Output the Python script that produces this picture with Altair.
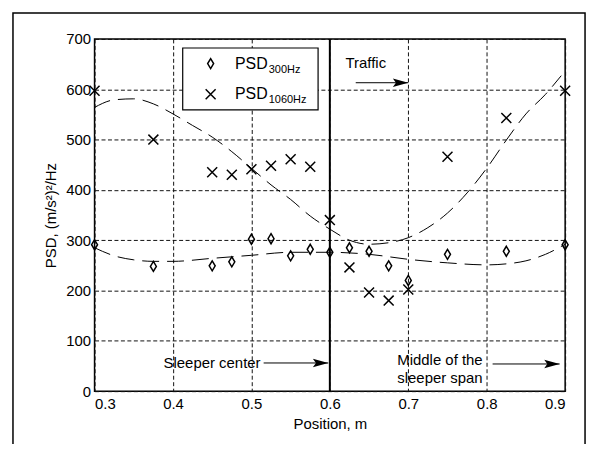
import altair as alt
import pandas as pd

# ---- data ----
positions = [0.3, 0.375, 0.45, 0.475, 0.5, 0.525, 0.55, 0.575, 0.6, 0.625, 0.65, 0.675, 0.7, 0.75, 0.825, 0.9]
psd300 = [291, 248, 249, 257, 302, 303, 269, 282, 276, 285, 278, 249, 220, 272, 278, 291]
psd1060 = [597, 500, 435, 430, 441, 448, 461, 446, 340, 246, 196, 180, 202, 466, 543, 597]

fit1060_x = [0.3, 0.325, 0.35, 0.375, 0.4, 0.425, 0.45, 0.475, 0.5, 0.525, 0.55, 0.575, 0.6,
             0.625, 0.65, 0.675, 0.7, 0.725, 0.75, 0.775, 0.8, 0.825, 0.85, 0.875, 0.895]
fit1060_y = [564, 579, 581, 571, 551, 528, 505, 476, 443, 410, 381, 348, 322,
             300, 292, 295, 305, 325, 354, 394, 443, 499, 551, 590, 627]
fit300_x = [0.3, 0.325, 0.35, 0.375, 0.4, 0.45, 0.5, 0.55, 0.6, 0.65, 0.7, 0.75, 0.8, 0.825, 0.85, 0.875, 0.9]
fit300_y = [285, 269, 261, 258, 258, 264, 270, 276, 276, 272, 262, 255, 251, 253, 259, 272, 292]

x_ticks = [0.3, 0.4, 0.5, 0.6, 0.7, 0.8, 0.9]
y_ticks = [0, 100, 200, 300, 400, 500, 600, 700]

FONT = "Liberation Sans"

pts = pd.DataFrame({"pos": positions, "p300": psd300, "p1060": psd1060})
fits = pd.concat([
    pd.DataFrame({"pos": fit1060_x, "val": fit1060_y, "s": "1060"}),
    pd.DataFrame({"pos": fit300_x, "val": fit300_y, "s": "300"}),
])

xs = alt.Scale(domain=[0.3, 0.9], nice=False, zero=False)
ys = alt.Scale(domain=[0, 700], nice=False)

X_AX = alt.Axis(values=x_ticks, format=".1f", grid=True, ticks=False, domain=False,
                labelPadding=5, title="Position, m", titlePadding=6)
Y_AX = alt.Axis(values=y_ticks, grid=True, ticks=False, domain=False, labelPadding=4,
                title="PSD, (m/s²)²/Hz", titlePadding=7)

base = alt.Chart(pts)

# axes + grid carrier (invisible)
grid = base.mark_point(opacity=0).encode(
    x=alt.X("pos:Q", scale=xs, axis=X_AX),
    y=alt.Y("p300:Q", scale=ys, axis=Y_AX),
)

fit_lines = alt.Chart(fits).mark_line(color="black", strokeWidth=1, strokeDash=[17, 8],
                                      interpolate="monotone").encode(
    x=alt.X("pos:Q", scale=xs), y=alt.Y("val:Q", scale=ys), detail="s:N")

DIAMOND = "M0,-1L0.6,0L0,1L-0.6,0Z"
XMARK = "M-1,-1L1,1M1,-1L-1,1"

d300 = base.mark_point(shape=DIAMOND, size=100, filled=False, color="black",
                       strokeWidth=1.5, opacity=1).encode(
    x=alt.X("pos:Q", scale=xs), y=alt.Y("p300:Q", scale=ys))
d1060 = base.mark_point(shape=XMARK, size=100, filled=False, color="black",
                        strokeWidth=1.5, opacity=1).encode(
    x=alt.X("pos:Q", scale=xs), y=alt.Y("p1060:Q", scale=ys))

# vertical solid line at sleeper center
vline = alt.Chart(pd.DataFrame({"x": [0.6]})).mark_rule(color="black", strokeWidth=2).encode(
    x=alt.X("x:Q", scale=xs))

# annotations
arrows = pd.DataFrame({"x1": [0.633, 0.5156, 0.8075], "x2": [0.700, 0.598, 0.893],
                       "y": [613, 56, 54]})
arrow_lines = alt.Chart(arrows).mark_rule(color="black", strokeWidth=1).encode(
    x=alt.X("x1:Q", scale=xs), x2="x2:Q", y=alt.Y("y:Q", scale=ys))
HEAD = "M-2,-0.55L0,0L-2,0.55L-1.6,0Z"
arrow_heads = alt.Chart(arrows).mark_point(shape=HEAD, size=240, filled=True, color="black",
                                           opacity=1).encode(
    x=alt.X("x2:Q", scale=xs), y=alt.Y("y:Q", scale=ys))

notes = pd.DataFrame({"x": [0.62, 0.388, 0.686, 0.686],
                      "y": [652, 56, 62, 26],
                      "t": ["Traffic", "Sleeper center", "Middle of the", "sleeper span"]})
note_text = alt.Chart(notes).mark_text(align="left", baseline="middle", font=FONT,
                                       fontSize=15, color="black").encode(
    x=alt.X("x:Q", scale=xs), y=alt.Y("y:Q", scale=ys), text="t:N")

# custom legend box
box = alt.Chart(pd.DataFrame({"x1": [0.4124], "x2": [0.585], "y1": [559], "y2": [682]})).mark_rect(
    fill="white", stroke="black", strokeWidth=1.2).encode(
    x=alt.X("x1:Q", scale=xs), x2="x2:Q", y=alt.Y("y1:Q", scale=ys), y2="y2:Q")
leg_sym = pd.DataFrame({"x": [0.448], "y1": [651], "y2": [590]})
leg_d = alt.Chart(leg_sym).mark_point(shape=DIAMOND, size=100, filled=False, color="black",
                                      strokeWidth=1.5, opacity=1).encode(
    x=alt.X("x:Q", scale=xs), y=alt.Y("y1:Q", scale=ys))
leg_x = alt.Chart(leg_sym).mark_point(shape=XMARK, size=100, filled=False, color="black",
                                      strokeWidth=1.5, opacity=1).encode(
    x=alt.X("x:Q", scale=xs), y=alt.Y("y2:Q", scale=ys))
leg_main = pd.DataFrame({"x": [0.479, 0.479], "y": [651, 591], "t": ["PSD", "PSD"]})
leg_sub = pd.DataFrame({"x": [0.479, 0.479], "y": [638, 578], "t": ["300Hz", "1060Hz"]})
leg_t1 = alt.Chart(leg_main).mark_text(align="left", baseline="middle", font=FONT,
                                       fontSize=16, color="black").encode(
    x=alt.X("x:Q", scale=xs), y=alt.Y("y:Q", scale=ys), text="t:N")
leg_t2 = alt.Chart(leg_sub).mark_text(align="left", baseline="middle", font=FONT, dx=34,
                                      fontSize=11, color="black").encode(
    x=alt.X("x:Q", scale=xs), y=alt.Y("y:Q", scale=ys), text="t:N")

# outer figure frame (decoration)
frame = alt.Chart(pd.DataFrame({"a": [0]})).mark_rect(fill=None, stroke="black", strokeWidth=1.5).encode(
    x=alt.value(-82), x2=alt.value(493), y=alt.value(-26), y2=alt.value(470))

chart = alt.layer(
    frame, grid, fit_lines, vline, d300, d1060, arrow_lines, arrow_heads, note_text,
    box, leg_d, leg_x, leg_t1, leg_t2
).properties(
    width=473, height=354,
    background="white",
    autosize=alt.AutoSizeParams(type="none"),
    padding={"left": 87, "top": 30, "right": 28, "bottom": 52},
).configure_view(stroke="black", strokeWidth=1.5).configure_axis(
    labelFont=FONT, titleFont=FONT, labelFontSize=15, titleFontSize=15,
    labelColor="black", titleColor="black", titleFontWeight="normal",
    gridColor="#111", gridDash=[4, 2.5], gridWidth=1, gridOpacity=1,
)

chart.save("out.html", embed_options={"renderer": "svg", "actions": False})
